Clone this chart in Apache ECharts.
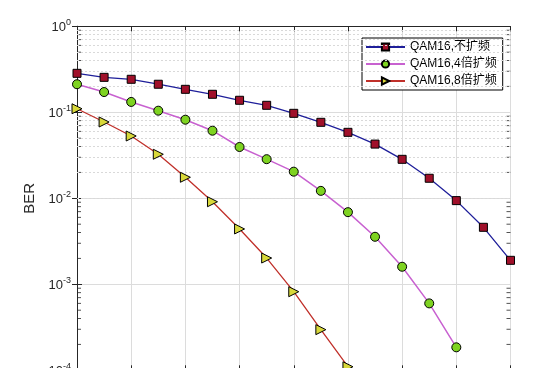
<!DOCTYPE html>
<html>
<head>
<meta charset="utf-8">
<script src="https://cdn.jsdelivr.net/npm/echarts@6/dist/echarts.min.js"></script>
<style>html,body{margin:0;padding:0;background:#fff;}#c{width:549px;height:368px;}</style>
</head>
<body>
<div id="c"></div>
<script>
var snr = [0,1,2,3,4,5,6,7,8,9,10,11,12,13,14,15,16];
var seriesNames = ['QAM16,不扩频', 'QAM16,4倍扩频', 'QAM16,8倍扩频'];
var berNoSpread = [0.284,0.255,0.242,0.212,0.185,0.162,0.138,0.1206,0.0973,0.0765,0.0585,0.0427,0.0284,0.0171,0.0094,0.0046,0.0019];
var berSpread4 = [0.212,0.172,0.132,0.1044,0.082,0.0611,0.0395,0.0285,0.0204,0.0122,0.0069,0.00357,0.0016,0.0006,0.000185];
var berSpread8 = [0.110,0.0771,0.053,0.0325,0.01755,0.00912,0.0044,0.00202,0.00082,0.000297,0.000110];
var yTicks = [1e-4,1e-3,1e-2,1e-1,1];

function pairs(vals){ return vals.map(function(v,i){ return [snr[i], v]; }); }
var minorVals = [];
for (var d = -4; d < 0; d++) { for (var m = 2; m <= 9; m++) { minorVals.push(m * Math.pow(10, d)); } }

var chart = echarts.init(document.getElementById('c'));
var axisColor = '#262626';
var font = 'Liberation Sans, Arial, Noto Sans CJK SC, sans-serif';

function supLabel(v){
  var e = Math.round(Math.log10(v));
  return '{b|10}{s|' + e + '}';
}

chart.setOption({
  animation: false,
  backgroundColor: '#fff',
  grid: { left: 77, right: 38.5, top: 26.3, bottom: -2.3, containLabel: false, outerBoundsMode: 'none' },
  legend: {
    orient: 'vertical', left: 362, top: 38,
    backgroundColor: '#fff', borderColor: '#000', borderWidth: 1,
    padding: [2, 6, 2, 3], itemGap: 3, itemWidth: 39, itemHeight: 9,
    textStyle: { fontFamily: font, fontSize: 12, color: '#000', lineHeight: 14 },
    data: seriesNames
  },
  xAxis: [{
    type: 'value', min: 0, max: 16, interval: 2, position: 'bottom',
    axisLine: { show: true, lineStyle: { color: axisColor } },
    axisTick: { inside: true, length: 5, lineStyle: { color: axisColor } },
    axisLabel: { show: true, color: axisColor, fontFamily: font, fontSize: 12 },
    splitLine: { show: true, lineStyle: { color: '#dcdcdc', width: 1 } }
  }, {
    type: 'value', min: 0, max: 16, interval: 2, position: 'top',
    axisLine: { show: true, onZero: false, lineStyle: { color: axisColor } },
    axisTick: { inside: true, length: 5, lineStyle: { color: axisColor } },
    axisLabel: { show: false }, splitLine: { show: false }
  }],
  yAxis: [{
    type: 'log', logBase: 10, min: 1e-4, max: 1, position: 'left',
    name: 'BER', nameLocation: 'middle', nameGap: 38,
    nameTextStyle: { fontFamily: font, fontSize: 15, color: axisColor },
    axisLine: { show: true, lineStyle: { color: axisColor } },
    axisTick: { inside: true, length: 5, lineStyle: { color: axisColor } },
    axisLabel: {
      formatter: supLabel, margin: 6,
      rich: {
        b: { fontFamily: font, fontSize: 13, color: axisColor, verticalAlign: 'bottom' },
        s: { fontFamily: font, fontSize: 9, color: axisColor, verticalAlign: 'bottom', padding: [0, 0, 7, 0] }
      }
    },
    splitLine: { show: true, lineStyle: { color: '#dcdcdc', width: 1 } }
  }, {
    type: 'log', logBase: 10, min: 1e-4, max: 1, position: 'right',
    axisLine: { show: true, lineStyle: { color: axisColor } },
    axisTick: { inside: true, length: 5, lineStyle: { color: axisColor } },
    axisLabel: { show: false }, splitLine: { show: false }
  }],
  series: [
    {
      type: 'line', silent: true, data: [], symbol: 'none', z: 1,
      markLine: {
        silent: true, symbol: 'none', label: { show: false },
        lineStyle: { color: '#d9d9d9', type: [2, 2], width: 1 },
        data: minorVals.map(function(v){ return { yAxis: v }; })
      }
    },
    {
      type: 'scatter', silent: true, z: 3, symbol: 'rect', symbolSize: [4, 1], symbolOffset: [2, 0],
      itemStyle: { color: axisColor },
      data: minorVals.map(function(v){ return [0, v]; })
    },
    {
      type: 'scatter', silent: true, z: 3, symbol: 'rect', symbolSize: [4, 1], symbolOffset: [-2, 0],
      itemStyle: { color: axisColor },
      data: minorVals.map(function(v){ return [16, v]; })
    },
    {
      name: seriesNames[0], type: 'line', data: pairs(berNoSpread), z: 5,
      symbol: 'rect', symbolSize: 8,
      lineStyle: { color: '#1f1f9a', width: 1.3 },
      itemStyle: { color: '#a0102a', borderColor: '#000', borderWidth: 1 }
    },
    {
      name: seriesNames[1], type: 'line', data: pairs(berSpread4), z: 5,
      symbol: 'circle', symbolSize: 9,
      lineStyle: { color: '#c861d0', width: 1.5 },
      itemStyle: { color: '#7ed321', borderColor: '#000', borderWidth: 1 }
    },
    {
      name: seriesNames[2], type: 'line', data: pairs(berSpread8), z: 5,
      symbol: 'triangle', symbolSize: 10, symbolRotate: -90,
      lineStyle: { color: '#c0302a', width: 1.3 },
      itemStyle: { color: '#d8d83a', borderColor: '#000', borderWidth: 1 }
    }
  ]
});
</script>
</body>
</html>
